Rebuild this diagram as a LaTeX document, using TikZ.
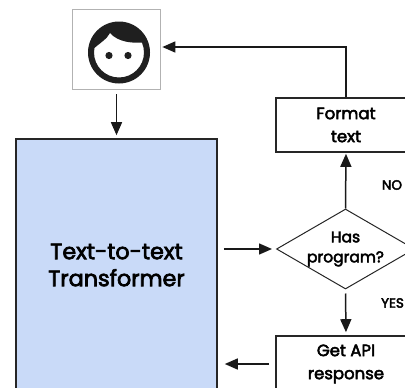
\documentclass[tikz,border=0pt]{standalone}
\usepackage{fontspec}
\setmainfont{Poppins}[FakeBold=3]
\usetikzlibrary{arrows.meta,shapes.geometric,calc}
\tikzset{
  x=1pt,y=-1pt,
  flowbox/.style={draw=black!85,line width=1.6pt,align=center,font=\fontsize{16.5}{23}\selectfont,inner sep=0pt},
  flowarrow/.style={draw=black!90,line width=1.5pt,-{Triangle[length=13pt,width=11pt]}},
  sidelabel/.style={font=\fontsize{13.5}{13}\selectfont,inner sep=0pt},
}
\definecolor{blockblue}{HTML}{C9DAF8}
\begin{document}
\begin{tikzpicture}
\useasboundingbox (0,0) rectangle (405,388);
\clip (0,0) rectangle (405,388);
\node[draw=black!30,line width=0.7pt,minimum width=88pt,minimum height=80pt,inner sep=0pt] (img) at (116,49) {};
% face
\fill[black!88,even odd rule] (119,52.5) circle (31) (119,52.5) circle (25);
\fill[black!88] (95,38) .. controls (105,22) and (133,22) .. (143,38) -- (147,42)
  .. controls (132,44) and (118,42) .. (110,33)
  .. controls (107,39) and (100,43) .. (92,50) -- cycle;
\fill[black!88] (109,55.5) circle (3.6) (128,55.5) circle (3.6);
\node[flowbox,fill=blockblue,minimum width=201pt,minimum height=252pt,font=\fontsize{22.3}{27}\selectfont] (trans) at (116.5,265) {Text-to-text\\Transformer};
\node[flowbox,minimum width=140pt,minimum height=54pt] (fmt) at (346,125) {Format\\text};
\node[diamond,draw=black!85,line width=1pt,aspect=1.725,minimum width=138pt,minimum height=80pt,inner sep=0pt,align=center,font=\fontsize{15.5}{20}\selectfont] (dia) at (345.5,249) {Has\\program?};
\node[flowbox,minimum width=140pt,minimum height=56pt] (api) at (346,364) {Get API\\response};
\node[sidelabel] (no) at (392,185) {NO};
\node[sidelabel] (yes) at (392.5,303) {YES};
\coordinate (turn) at (346,47);
\draw[flowarrow,shorten <=5pt,shorten >=3pt] (img.south -| trans.north) -- (trans.north);
\draw[flowarrow,shorten >=2pt] (fmt.north) -- (turn) -- (img.east |- turn);
\draw[flowarrow,shorten >=1pt] (dia.north) -- (fmt.south);
\draw[flowarrow,shorten <=6pt,shorten >=4pt] (trans.east |- dia.west) -- (dia.west);
\draw[flowarrow,shorten <=4pt,shorten >=3pt] (dia.south) -- (api.north);
\draw[flowarrow,shorten <=6pt,shorten >=7pt] (api.west) -- (trans.east |- api.west);
\end{tikzpicture}
\end{document}
